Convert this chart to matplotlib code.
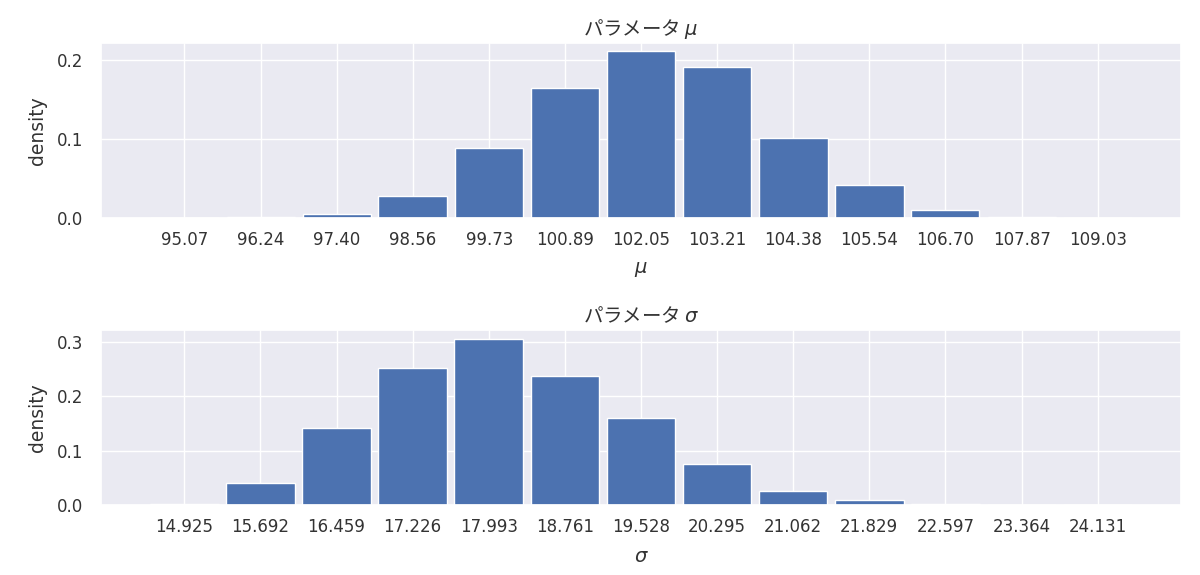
import numpy as np
import matplotlib
matplotlib.use("Agg")
import matplotlib.pyplot as plt
import seaborn as sns

sns.set_theme(style="darkgrid")
plt.rcParams['font.family'] = ['DejaVu Sans', 'Noto Sans CJK JP']

# bin centres (tick labels) and densities
mu_labels = ["95.07", "96.24", "97.40", "98.56", "99.73", "100.89", "102.05",
             "103.21", "104.38", "105.54", "106.70", "107.87", "109.03"]
mu_density = [0.0002, 0.0005, 0.0047, 0.028, 0.0886, 0.165, 0.2115,
              0.192, 0.1008, 0.0415, 0.0093, 0.001, 0.0002]

sigma_labels = ["14.925", "15.692", "16.459", "17.226", "17.993", "18.761", "19.528",
                "20.295", "21.062", "21.829", "22.597", "23.364", "24.131"]
sigma_density = [0.002, 0.040, 0.1425, 0.2526, 0.3063, 0.2373, 0.160,
                 0.0746, 0.0263, 0.0086, 0.001, 0.0002, 0.0001]

panels = [
    ("パラメータ $\\mu$", "$\\mu$", mu_labels, mu_density, [0.0, 0.1, 0.2]),
    ("パラメータ $\\sigma$", "$\\sigma$", sigma_labels, sigma_density, [0.0, 0.1, 0.2, 0.3]),
]

fig, axes = plt.subplots(2, 1, figsize=(12, 5.75), dpi=100)
fig.subplots_adjust(left=101/1200, right=1181/1200, top=1-43/575, bottom=1-505/575, hspace=0.644)

txt = "#333333"
for ax, (title, xlabel, labels, dens, yt) in zip(axes, panels):
    centers = np.array([float(s) for s in labels])
    w = np.mean(np.diff(centers))
    ax.bar(centers, dens, width=0.9*w, color="#4C72B0", edgecolor="white", linewidth=1)
    ax.set_xticks(centers)
    ax.set_xticklabels(labels, fontsize=12, color=txt)
    ax.set_yticks(yt)
    ax.set_yticklabels(["%.1f" % v for v in yt], fontsize=12, color=txt)
    ax.tick_params(axis='y', pad=7)
    ax.set_title(title, fontsize=14, color=txt, family=['Noto Sans CJK JP', 'DejaVu Sans'])
    ax.set_xlabel(xlabel, fontsize=14, color=txt, labelpad=8)
    ax.set_ylabel("density", fontsize=13.5, color=txt, labelpad=7)

plt.savefig("out.png")
